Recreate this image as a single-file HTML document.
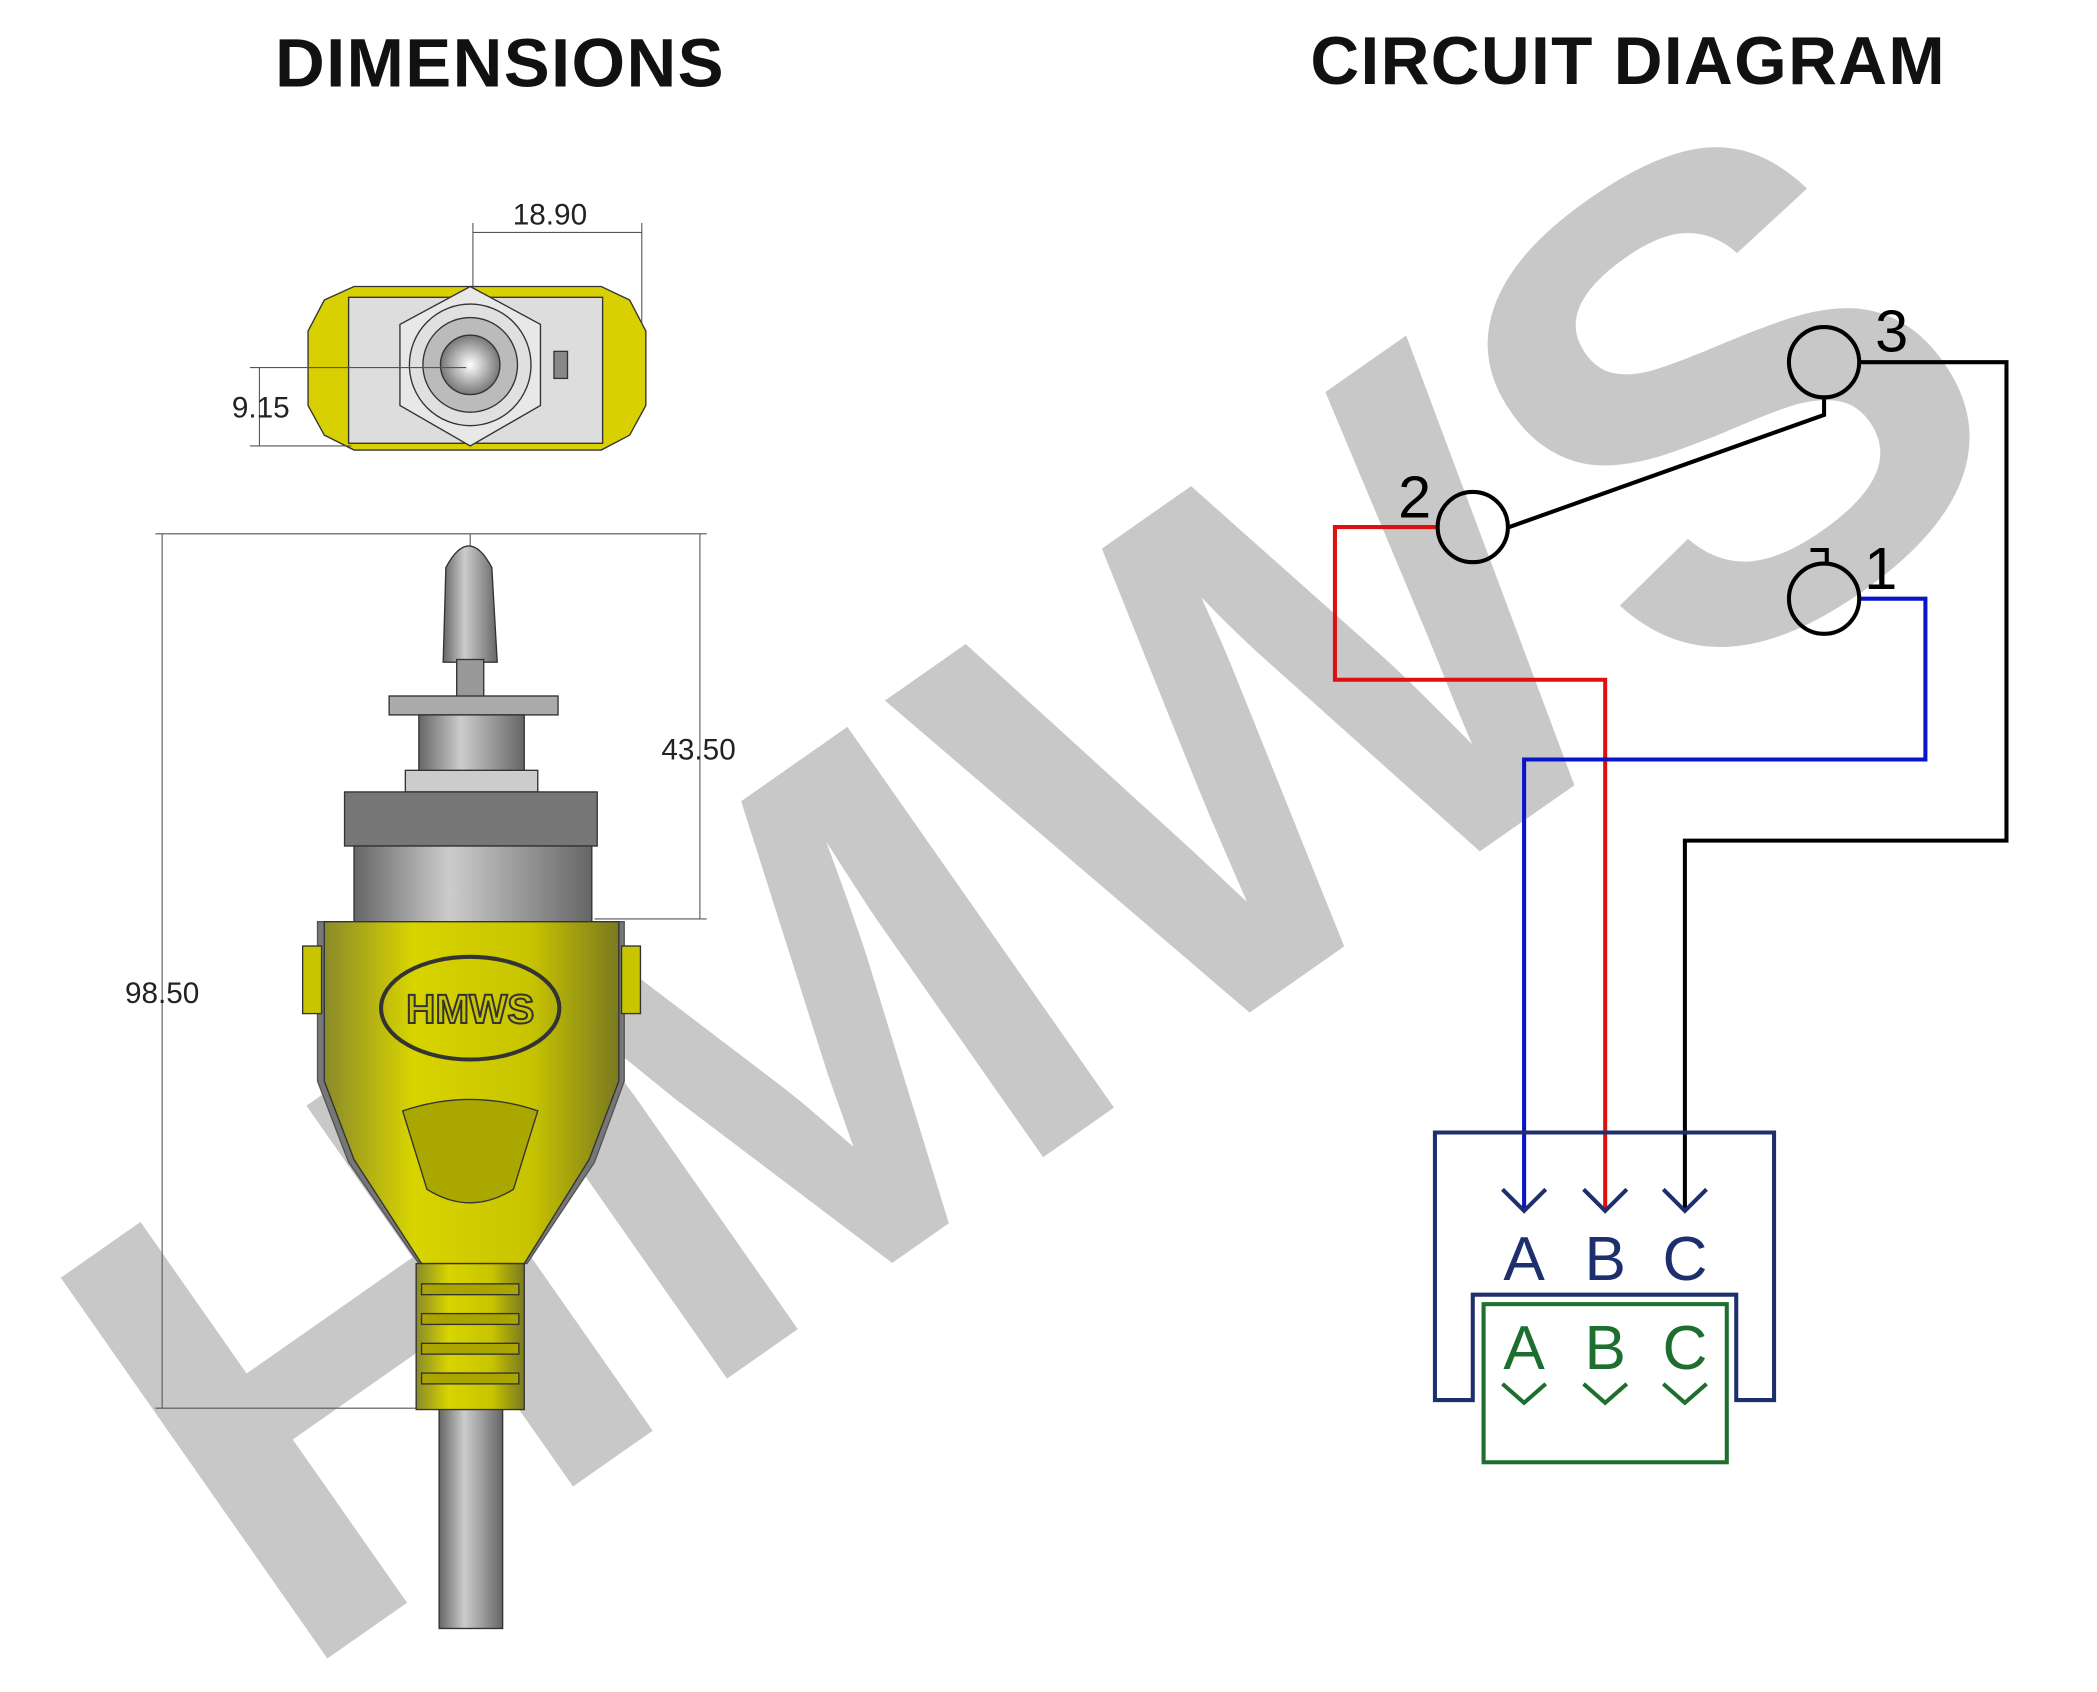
<!DOCTYPE html>
<html><head><meta charset="utf-8"><style>
html,body{margin:0;padding:0;background:#fff;overflow:hidden;width:2097px;height:1692px;}
svg{display:block;}
text{font-family:"Liberation Sans",sans-serif;}
</style></head><body>
<svg width="2097" height="1692" viewBox="0 0 1552 1252" preserveAspectRatio="none" xmlns="http://www.w3.org/2000/svg">
<defs>
<linearGradient id="gy" x1="0" x2="1"><stop offset="0" stop-color="#8a8a2a"/><stop offset="0.3" stop-color="#d8d400"/><stop offset="0.7" stop-color="#c8c400"/><stop offset="1" stop-color="#7a7a20"/></linearGradient>
<linearGradient id="gg" x1="0" x2="1"><stop offset="0" stop-color="#666"/><stop offset="0.4" stop-color="#ccc"/><stop offset="1" stop-color="#666"/></linearGradient>
<radialGradient id="ball"><stop offset="0" stop-color="#fff"/><stop offset="1" stop-color="#777"/></radialGradient>
</defs>
<rect width="1552" height="1252" fill="#fff"/>
<!-- watermark -->
<text x="0" y="180" transform="translate(760,645) rotate(-35)" text-anchor="middle" font-size="500" font-weight="bold" fill="#c8c8c8">HMWS</text>

<!-- titles -->
<text x="370" y="64" text-anchor="middle" font-size="51" font-weight="bold" fill="#111" letter-spacing="1">DIMENSIONS</text>
<text x="1205" y="62" text-anchor="middle" font-size="50" font-weight="bold" fill="#111" letter-spacing="1">CIRCUIT DIAGRAM</text>

<!-- top view -->
<g stroke="#333" stroke-width="1">
<path d="M240,222 L262,212 L445,212 L466,222 L478,245 L478,300 L466,322 L445,333 L262,333 L240,322 L228,300 L228,245 Z" fill="#d8d000"/>
<rect x="258" y="220" width="188" height="108" fill="#ddd"/>
<polygon points="348,212 400,240 400,300 348,330 296,300 296,240" fill="#e8e8e8"/>
<circle cx="348" cy="270" r="45" fill="#e0e0e0"/>
<circle cx="348" cy="270" r="35" fill="#bbb"/>
<circle cx="348" cy="270" r="22" fill="url(#ball)"/>
<rect x="410" y="260" width="10" height="20" fill="#888"/>
</g>
<g stroke="#555" stroke-width="0.8" fill="none">
<line x1="350" y1="165" x2="350" y2="212"/><line x1="475" y1="165" x2="475" y2="240"/><line x1="350" y1="172" x2="475" y2="172"/>
<line x1="185" y1="272" x2="345" y2="272"/><line x1="185" y1="330" x2="260" y2="330"/><line x1="192" y1="272" x2="192" y2="330"/>
<line x1="120" y1="395" x2="120" y2="1042"/><line x1="115" y1="395" x2="523" y2="395"/><line x1="115" y1="1042" x2="330" y2="1042"/>
<line x1="518" y1="395" x2="518" y2="680"/><line x1="440" y1="680" x2="523" y2="680"/>
<line x1="348" y1="395" x2="348" y2="1200" stroke-dasharray="12,4"/>
</g>
<text x="407" y="166" text-anchor="middle" font-size="22" fill="#222">18.90</text>
<text x="193" y="309" text-anchor="middle" font-size="22" fill="#222">9.15</text>
<text x="120" y="742" text-anchor="middle" font-size="22" fill="#222">98.50</text>
<text x="517" y="562" text-anchor="middle" font-size="22" fill="#222">43.50</text>

<!-- side view -->
<g stroke="#333" stroke-width="1">
<rect x="325" y="1040" width="47" height="165" fill="url(#gg)"/>
<path d="M330,420 Q347,388 364,420 L368,490 L328,490 Z" fill="url(#gg)"/>
<rect x="338" y="488" width="20" height="28" fill="#999"/>
<rect x="288" y="515" width="125" height="14" fill="#aaa"/>
<rect x="310" y="529" width="78" height="44" fill="url(#gg)"/>
<rect x="300" y="570" width="98" height="16" fill="#ccc"/>
<rect x="255" y="586" width="187" height="40" fill="#777"/>
<rect x="262" y="626" width="176" height="56" fill="url(#gg)"/>
<path d="M235,682 L462,682 L462,800 L440,860 L390,935 L310,935 L258,860 L235,800 Z" fill="#777" stroke="#555"/>
<path d="M240,682 L458,682 L458,800 L436,858 L388,935 L312,935 L262,858 L240,800 Z" fill="url(#gy)"/>
<rect x="224" y="700" width="14" height="50" fill="#c8c400"/>
<rect x="460" y="700" width="14" height="50" fill="#c8c400"/>
<path d="M298,822 Q348,805 398,822 L380,880 Q348,900 316,880 Z" fill="#aaa800"/>
<rect x="308" y="935" width="80" height="108" fill="url(#gy)"/>
<g fill="#aaa400"><rect x="312" y="950" width="72" height="8"/><rect x="312" y="972" width="72" height="8"/><rect x="312" y="994" width="72" height="8"/><rect x="312" y="1016" width="72" height="8"/></g>
<ellipse cx="348" cy="746" rx="66" ry="38" fill="none" stroke="#333" stroke-width="3"/>
</g>
<text x="348" y="757" text-anchor="middle" font-size="30" font-weight="bold" fill="#c8c400" stroke="#333" stroke-width="1.5">HMWS</text>

<!-- circuit -->
<g fill="none" stroke-width="3">
<polyline points="1377,268 1485,268 1485,622 1247,622 1247,895" stroke="#000"/>
<polyline points="1117,390 1350,307 1350,295" stroke="#000"/>
<polyline points="1063,390 988,390 988,503 1188,503 1188,895" stroke="#e01010"/>
<polyline points="1377,443 1425,443 1425,562 1128,562 1128,895" stroke="#0a14c8"/>
<circle cx="1350" cy="268" r="26" stroke="#000"/>
<circle cx="1090" cy="390" r="26" stroke="#000"/>
<circle cx="1350" cy="443" r="26" stroke="#000"/>
<polyline points="1340,407 1352,407 1352,417" stroke="#000"/>
<path d="M1090,1036 L1062,1036 L1062,838 L1313,838 L1313,1036 L1285,1036 L1285,958 L1090,958 Z" stroke="#1e2f6e"/>
<g stroke="#1e2f6e"><polyline points="1112,880 1128,896 1144,880"/><polyline points="1172,880 1188,896 1204,880"/><polyline points="1231,880 1247,896 1263,880"/></g>
<rect x="1098" y="965" width="180" height="117" stroke="#1e6e2f" fill="#fff"/>
<g stroke="#1e6e2f"><polyline points="1112,1024 1128,1038 1144,1024"/><polyline points="1172,1024 1188,1038 1204,1024"/><polyline points="1231,1024 1247,1038 1263,1024"/></g>
</g>
<g font-size="44" fill="#000"><text x="1047" y="383" text-anchor="middle">2</text><text x="1400" y="260" text-anchor="middle">3</text><text x="1392" y="436" text-anchor="middle">1</text></g>
<g font-size="46" fill="#1e2f6e" text-anchor="middle"><text x="1128" y="947">A</text><text x="1188" y="947">B</text><text x="1247" y="947">C</text></g>
<g font-size="46" fill="#1e6e2f" text-anchor="middle"><text x="1128" y="1013">A</text><text x="1188" y="1013">B</text><text x="1247" y="1013">C</text></g>
</svg>
</body></html>
